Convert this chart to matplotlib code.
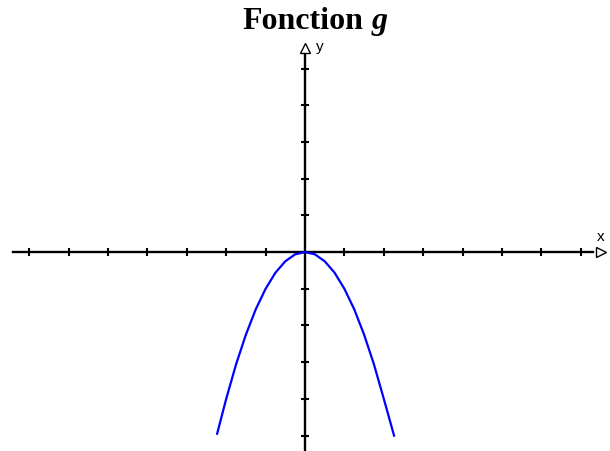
import matplotlib
matplotlib.use("Agg")
import matplotlib.pyplot as plt

# Curve of g
x_vals = [-2.23, -2.0, -1.75, -1.5, -1.25, -1.0, -0.75, -0.5, -0.25, 0.0,
          0.25, 0.5, 0.75, 1.0, 1.25, 1.5, 1.75, 2.0, 2.26]
y_vals = [-4.95, -4.0, -3.06, -2.25, -1.56, -1.0, -0.56, -0.25, -0.06, 0.0,
          -0.06, -0.25, -0.56, -1.0, -1.56, -2.25, -3.06, -4.0, -5.0]
x_ticks = [-7, -6, -5, -4, -3, -2, -1, 1, 2, 3, 4, 5, 6, 7]
y_ticks = [-5, -4, -3, -2, -1, 1, 2, 3, 4, 5]
title_text = "Fonction"
title_var = "g"

fig = plt.figure(figsize=(6.10, 4.51), dpi=100)
ax = fig.add_axes([0, 0, 1, 1])
ax.set_xlim(-7.74, 7.74)
ax.set_ylim(-5.42, 6.87)
ax.patch.set_visible(False)

lw = 1.7
for s in ["top", "right"]:
    ax.spines[s].set_visible(False)
ax.spines["left"].set_position(("data", 0))
ax.spines["bottom"].set_position(("data", 0))
ax.spines["left"].set_linewidth(lw)
ax.spines["bottom"].set_linewidth(lw)
ax.spines["bottom"].set_bounds(-7.41, 7.3)
ax.spines["left"].set_bounds(-5.45, 5.45)

ax.set_xticks(x_ticks)
ax.set_yticks(y_ticks)
ax.tick_params(direction="inout", length=6, width=1.5, labelbottom=False,
               labelleft=False, colors="black")

# arrow heads
ax.plot([7.51], [0], marker=">", ms=7.5, mfc="white", mec="black", mew=1.0,
        clip_on=False, zorder=5)
ax.plot([0], [5.56], marker="^", ms=7.5, mfc="white", mec="black", mew=1.0,
        clip_on=False, zorder=5)

ax.text(7.5, 0.41, "x", ha="center", va="center", fontsize=11,
        family="Liberation Sans")
ax.text(0.37, 5.59, "y", ha="center", va="center", fontsize=11,
        family="Liberation Sans")

ax.plot(x_vals, y_vals, color="#0000ff", lw=1.6, zorder=4)

# title
fs = 23
t1 = fig.text(0, 1 - 29 / 451, title_text, fontsize=fs, fontweight="bold",
              family="Liberation Serif", va="baseline", ha="left")
t2 = fig.text(0, 1 - 29 / 451, title_var, fontsize=fs, fontweight="bold",
              fontstyle="italic", family="Liberation Serif", va="baseline",
              ha="left")
fig.canvas.draw()
r = fig.canvas.get_renderer()
w1 = t1.get_window_extent(r).width
w2 = t2.get_window_extent(r).width
space = 0.25 * fs * 100 / 72
total = w1 + space + w2
start = 315 - total / 2
t1.set_x(start / 610)
t2.set_x((start + w1 + space) / 610)

fig.savefig("out.png", dpi=100)
